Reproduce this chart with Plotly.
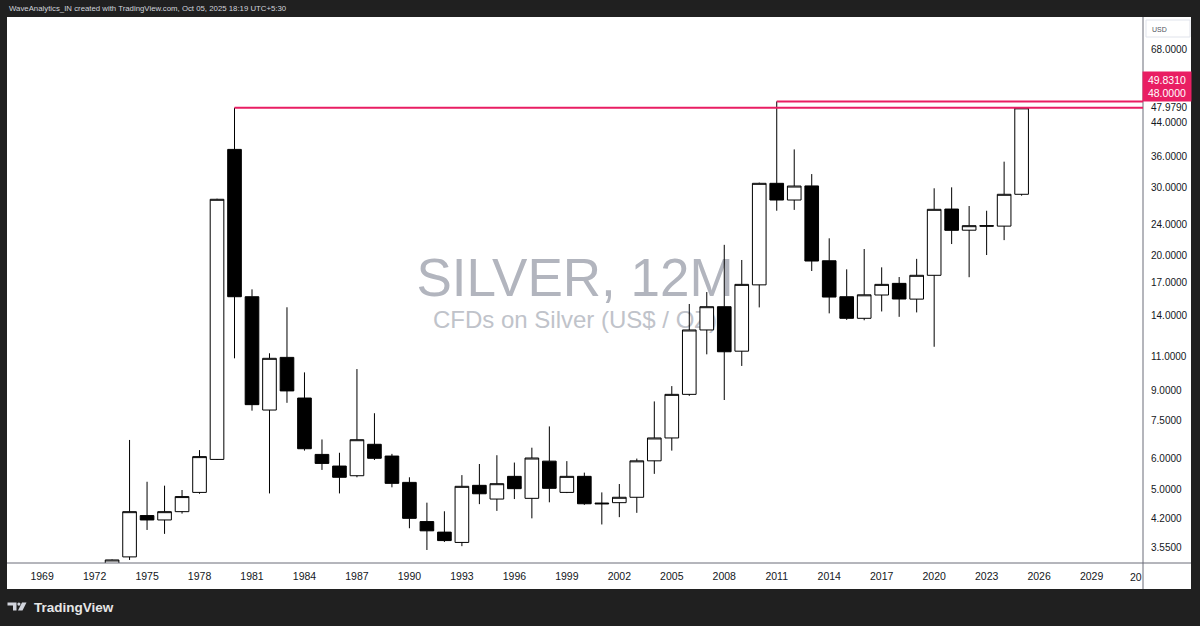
import numpy as np
import plotly.graph_objects as go

# yearly candles, CFDs on Silver (US$ / OZ), 12M
years = list(range(1973, 2026))
opens = [2.95, 3.35, 4.28, 4.17, 4.38, 4.91, 5.97, 37.5, 15.66, 8.00,
         10.93, 8.59, 6.15, 5.74, 5.42, 6.53, 6.09, 5.21, 4.13, 3.88,
         3.65, 5.12, 4.72, 5.40, 4.74, 5.91, 4.91, 5.40, 4.61, 4.62,
         4.77, 5.92, 6.78, 8.78, 12.86, 14.76, 11.34, 16.80, 30.67, 27.78,
         30.20, 19.38, 15.66, 13.78, 15.82, 16.95, 15.44, 17.78, 26.33, 23.23,
         23.86, 23.80, 28.74]
highs = [3.30, 6.70, 5.23, 5.11, 4.98, 6.31, 28.0, 48.0, 16.36, 11.2,
         14.71, 10.0, 6.72, 6.21, 10.2, 7.85, 6.17, 5.37, 4.62, 4.39,
         5.44, 5.81, 6.12, 5.86, 6.40, 7.26, 5.91, 5.52, 4.91, 5.16,
         6.00, 8.42, 9.22, 15.0, 16.1, 21.3, 19.47, 30.8, 49.831, 37.5,
         32.4, 22.14, 18.42, 20.78, 18.64, 17.6, 19.6, 29.78, 29.95, 26.81,
         26.07, 34.87, 47.98]
lows = [2.90, 3.29, 3.93, 3.84, 4.33, 4.87, 5.95, 10.87, 7.97, 4.88,
        8.35, 6.29, 5.61, 4.88, 5.37, 5.95, 5.06, 3.97, 3.49, 3.66,
        3.57, 4.58, 4.40, 4.72, 4.21, 4.63, 4.89, 4.56, 4.06, 4.24,
        4.35, 5.48, 6.29, 8.70, 11.13, 8.49, 10.39, 14.7, 26.07, 26.2,
        18.24, 14.19, 13.65, 13.62, 14.35, 13.9, 14.27, 11.64, 21.4, 17.58,
        20.05, 21.9, 28.5]
closes = [3.29, 4.38, 4.17, 4.38, 4.79, 6.07, 27.9, 15.66, 8.26, 10.87,
          8.96, 6.36, 5.83, 5.37, 6.71, 6.01, 5.18, 4.21, 3.91, 3.69,
          5.09, 4.87, 5.17, 5.02, 6.02, 5.03, 5.40, 4.59, 4.59, 4.77,
          5.92, 6.78, 8.78, 12.86, 14.76, 11.3, 16.85, 30.67, 27.78, 30.18,
          19.35, 15.63, 13.78, 15.84, 16.85, 15.45, 17.78, 26.29, 23.21, 23.86,
          23.80, 28.74, 47.979]

# horizontal levels (price, start year)
level_prices = [48.0, 49.831]
level_starts = [1980, 2011]
last_price = 47.979

price_ticks = [3.55, 4.2, 5, 6, 7.5, 9, 11, 14, 17, 20, 24, 30, 36, 44, 68]
year_ticks = list(range(1969, 2030, 3))

W, H = 1200, 626
L, R, T, B = 8, 1143, 17, 563   # plot area in pixels
x_range = [1967.05, 2031.94]
y_range = [np.log10(3.231), np.log10(82.2)]

PINK = "#e91e63"
DARK = "#202020"
TXT = "#131722"
FONT = "Liberation Sans, Arial, sans-serif"


def px(x):
    return (x - L) / (R - L)


def py(y):
    return (B - y) / (B - T)


fig = go.Figure()

fig.add_trace(
    go.Candlestick(
        x=years, open=opens, high=highs, low=lows, close=closes,
        increasing=dict(line=dict(color="#000000", width=1), fillcolor="#ffffff"),
        decreasing=dict(line=dict(color="#000000", width=1), fillcolor="#000000"),
        whiskerwidth=0,
        showlegend=False,
        hoverinfo="skip",
    )
)

shapes = [
    # white chart panel
    dict(type="rect", xref="paper", yref="paper", layer="below",
         x0=px(7), x1=px(1191), y0=py(17), y1=py(589),
         fillcolor="#ffffff", line=dict(width=0)),
    # watermark (behind the candles)
    dict(type="rect", xref="paper", yref="paper", layer="below",
         x0=px(375), x1=px(775), y0=py(300), y1=py(245),
         line=dict(width=0), fillcolor="rgba(0,0,0,0)",
         label=dict(text="SILVER, 12M", textposition="middle center",
                    font=dict(family=FONT, size=53, color="#b2b5be"))),
    dict(type="rect", xref="paper", yref="paper", layer="below",
         x0=px(375), x1=px(775), y0=py(330), y1=py(305),
         line=dict(width=0), fillcolor="rgba(0,0,0,0)",
         label=dict(text="CFDs on Silver (US$ / OZ)", textposition="middle center",
                    font=dict(family=FONT, size=24, color="#c0c3ca"))),
    # axis separators
    dict(type="line", xref="paper", yref="paper", layer="above",
         x0=px(1143), x1=px(1143), y0=py(17), y1=py(589),
         line=dict(color="#6a6d78", width=1)),
    dict(type="line", xref="paper", yref="paper", layer="above",
         x0=px(7), x1=px(1191), y0=py(563), y1=py(563),
         line=dict(color="#6a6d78", width=1)),
    # USD box
    dict(type="rect", xref="paper", yref="paper", layer="above",
         x0=px(1146), x1=px(1190), y0=py(20), y1=py(37),
         line=dict(color="#e0e3eb", width=1), fillcolor="#ffffff"),
]

for p, s in zip(level_prices, level_starts):
    shapes.append(dict(type="line", xref="x", yref="y", layer="above",
                       x0=s, x1=x_range[1], y0=p, y1=p,
                       line=dict(color=PINK, width=2)))

# TradingView logo
logo_t = "M {} {} L {} {} L {} {} L {} {} L {} {} L {} {} Z".format(
    px(7.5), py(602.5), px(16.5), py(602.5), px(16.5), py(610.5),
    px(13), py(610.5), px(13), py(605.5), px(7.5), py(605.5))
logo_s = "M {} {} L {} {} L {} {} L {} {} Z".format(
    px(22), py(602.5), px(26.5), py(602.5), px(22.5), py(610.5),
    px(18), py(610.5))
shapes += [
    dict(type="path", xref="paper", yref="paper", path=logo_t,
         fillcolor="#d1d4dc", line=dict(width=0)),
    dict(type="path", xref="paper", yref="paper", path=logo_s,
         fillcolor="#d1d4dc", line=dict(width=0)),
    dict(type="circle", xref="paper", yref="paper",
         x0=px(17.3), x1=px(20.5), y0=py(602.5), y1=py(605.7),
         fillcolor="#d1d4dc", line=dict(width=0)),
]

annotations = [
    dict(text="WaveAnalytics_IN created with TradingView.com, Oct 05, 2025 18:19 UTC+5:30",
         xref="paper", yref="paper", x=px(7), y=py(8.5), xanchor="left", yanchor="middle",
         showarrow=False, font=dict(family=FONT, size=7.8, color="#d1d4dc")),
    dict(text="<b>TradingView</b>", xref="paper", yref="paper", x=px(32), y=py(607),
         xanchor="left", yanchor="middle", showarrow=False,
         font=dict(family=FONT, size=13.5, color="#e6e6e6")),
    dict(text="USD", xref="paper", yref="paper", x=px(1150), y=py(29),
         xanchor="left", yanchor="middle", showarrow=False,
         font=dict(family=FONT, size=7, color="#50535e")),
    dict(text="{:.4f}<br>{:.4f}".format(level_prices[1], level_prices[0]),
         xref="paper", yref="paper", x=px(1167), y=py(86.2), xanchor="center",
         yanchor="middle", showarrow=False, width=48, height=29, borderpad=0,
         bgcolor=PINK, font=dict(family=FONT, size=10.5, color="#ffffff")),
    dict(text="20", xref="paper", yref="paper", x=px(1143.5), y=py(576.5),
         xanchor="right", yanchor="middle", showarrow=False,
         font=dict(family=FONT, size=10.5, color=TXT)),
]

y_vals = price_ticks + [last_price]
y_text = ["{:.4f}".format(v) for v in y_vals]

fig.update_layout(
    width=W, height=H,
    margin=dict(l=L, r=W - R, t=T, b=H - B, pad=0),
    paper_bgcolor=DARK,
    plot_bgcolor="#ffffff",
    boxgap=0.22, boxgroupgap=0,
    showlegend=False,
    shapes=shapes,
    annotations=annotations,
    xaxis=dict(
        type="linear", range=x_range, rangeslider_visible=False,
        tickmode="array", tickvals=year_ticks, ticktext=[str(y) for y in year_ticks],
        showgrid=False, zeroline=False, showline=False, ticks="",
        ticklabelstandoff=5,
        tickfont=dict(family=FONT, size=10.5, color=TXT),
    ),
    yaxis=dict(
        type="log", range=y_range, side="right",
        tickmode="array", tickvals=y_vals, ticktext=y_text,
        showgrid=False, zeroline=False, showline=False, ticks="",
        ticklabelstandoff=7,
        tickfont=dict(family=FONT, size=10, color=TXT),
    ),
)

fig.write_html("out.html", config={"displayModeBar": False},
               post_script="document.body.style.margin='0px';")
